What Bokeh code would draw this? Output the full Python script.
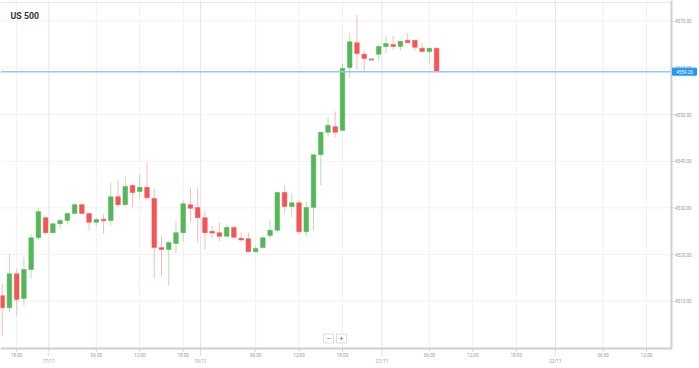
import math
from bokeh.plotting import figure
from bokeh.models import ColumnDataSource, Range1d
from bokeh.core.properties import value
from bokeh.embed import file_html
from bokeh.resources import INLINE

title_text = "US 500"

opens = [4511.2, 4508.6, 4515.9, 4510.6, 4516.8, 4523.6, 4527.9, 4524.7, 4526.6, 4527.3,
         4528.8, 4530.7, 4528.8, 4526.9, 4527.5, 4527.3, 4532.4, 4530.7, 4534.8, 4533.5,
         4534.4, 4532.0, 4521.5, 4521.1, 4522.4, 4524.7, 4530.7, 4530.1, 4527.9, 4524.9,
         4524.7, 4523.9, 4525.8, 4523.4, 4523.4, 4520.6, 4521.5, 4524.1, 4525.2, 4533.3,
         4530.3, 4531.1, 4524.9, 4530.1, 4541.4, 4546.2, 4547.4, 4546.6, 4560.1, 4565.4,
         4562.9, 4561.8, 4562.9, 4564.6, 4565.0, 4564.6, 4565.9, 4565.9, 4564.2, 4563.5,
         4564.2]
closes = [4508.6, 4515.9, 4510.4, 4516.8, 4523.6, 4529.2, 4524.7, 4526.6, 4527.3, 4528.8,
          4530.7, 4528.8, 4526.9, 4527.5, 4527.3, 4532.4, 4530.7, 4534.6, 4533.3, 4534.4,
          4532.2, 4521.5, 4521.1, 4522.6, 4524.7, 4530.9, 4529.9, 4527.9, 4524.7, 4524.7,
          4523.9, 4525.8, 4523.7, 4523.2, 4520.6, 4521.3, 4523.6, 4525.2, 4533.3, 4530.3,
          4531.1, 4524.9, 4530.1, 4541.4, 4546.2, 4547.7, 4546.2, 4559.9, 4565.6, 4563.1,
          4562.0, 4561.8, 4564.6, 4565.2, 4564.6, 4565.7, 4565.4, 4564.4, 4563.5, 4564.2,
          4559.2]
highs = [4513.8, 4520.2, 4517.0, 4519.4, 4524.3, 4529.9, 4528.1, 4526.9, 4527.9, 4529.0,
         4531.1, 4530.9, 4528.8, 4527.9, 4528.6, 4535.4, 4535.9, 4536.7, 4535.2, 4537.2,
         4539.7, 4534.1, 4524.1, 4523.0, 4527.1, 4531.6, 4534.4, 4534.4, 4529.4, 4526.2,
         4526.9, 4526.4, 4526.0, 4524.7, 4524.7, 4521.9, 4524.1, 4527.5, 4533.5, 4534.8,
         4533.1, 4531.8, 4531.4, 4541.4, 4546.2, 4549.4, 4550.7, 4560.9, 4567.4, 4571.4,
         4563.7, 4561.8, 4565.0, 4566.9, 4566.9, 4565.7, 4567.4, 4565.9, 4565.4, 4564.2,
         4564.2]
lows = [4502.6, 4507.6, 4506.9, 4509.1, 4514.9, 4523.0, 4524.5, 4524.5, 4525.6, 4526.4,
        4528.8, 4528.8, 4525.2, 4526.0, 4524.5, 4526.2, 4530.1, 4530.3, 4530.1, 4532.0,
        4531.6, 4514.9, 4515.5, 4513.4, 4520.4, 4522.8, 4526.9, 4522.6, 4521.1, 4523.4,
        4522.8, 4523.9, 4523.4, 4522.8, 4520.6, 4520.6, 4521.3, 4523.4, 4524.7, 4528.8,
        4528.1, 4524.3, 4523.9, 4525.2, 4534.8, 4545.3, 4545.1, 4546.6, 4557.9, 4559.6,
        4559.2, 4561.8, 4561.4, 4563.1, 4563.9, 4563.7, 4565.4, 4563.7, 4563.3, 4560.9,
        4559.2]

time_ticks = [2, 13, 19, 25, 35, 41, 47, 59, 65, 71, 83, 89]
time_labels = ["18:00", "06:00", "12:00", "18:00", "06:00", "12:00", "18:00",
               "06:00", "12:00", "18:00", "06:00", "12:00"]
date_ticks = [6.45, 27.4, 52.45, 76.4]
date_labels = ["17/11", "19/11", "21/11", "22/11"]
price_ticks = [4510, 4520, 4530, 4540, 4550, 4560, 4570]
price_labels = [f"{v:.2f}" for v in price_ticks]

# ---- layout constants ----
W, H = 699, 368
X0, X1 = -0.235, 96.31          # candle-index range across the whole canvas
Y0, Y1 = 4495.59, 4574.44       # price range across the whole canvas
AX_X = 92.44                    # position of the right price axis
AX_Y = 4499.86                  # position of the bottom time axis
TOP_Y = 4574.0
PPX = W / (X1 - X0)
PPY = H / (Y1 - Y0)

GREEN, RED, GRAY = "#56b65a", "#f65555", "#9a9a9a"
GREEN_W, RED_W, GRAY_W = "#b7dfb3", "#f8bcbc", "#cccccc"
GRID, GRID_D, AXIS, LABEL = "#f1f1f1", "#e3e3e3", "#cfcfcf", "#9a9a9a"
FONT = value("Roboto")
FS = "4.6px"

idx = list(range(len(opens)))
body_col, wick_col, tops, bots = [], [], [], []
for o, c in zip(opens, closes):
    if c > o:
        body_col.append(GREEN); wick_col.append(GREEN_W)
    elif c < o:
        body_col.append(RED); wick_col.append(RED_W)
    else:
        body_col.append(GRAY); wick_col.append(GRAY_W)
    t, b = max(o, c), min(o, c)
    if t - b < 0.35:
        m = (t + b) / 2
        t, b = m + 0.175, m - 0.175
    tops.append(t); bots.append(b)

src = ColumnDataSource(dict(x=idx, o=opens, c=closes, h=highs, l=lows,
                            top=tops, bot=bots, bc=body_col, wc=wick_col))

p = figure(width=W, height=H, x_range=Range1d(X0, X1), y_range=Range1d(Y0, Y1),
           x_axis_location=None, y_axis_location=None, min_border=0,
           output_backend="svg", toolbar_location=None,
           background_fill_color="white", border_fill_color="white",
           outline_line_color=None)
for g in p.grid:
    g.visible = False

# grid lines
p.segment(x0=time_ticks, x1=time_ticks, y0=AX_Y, y1=Y1, line_color=GRID, line_width=1)
p.segment(x0=date_ticks, x1=date_ticks, y0=AX_Y, y1=Y1, line_color=GRID_D, line_width=1)
p.segment(x0=X0, x1=AX_X, y0=price_ticks, y1=price_ticks, line_color=GRID, line_width=1)
p.segment(x0=X0, x1=AX_X, y0=TOP_Y, y1=TOP_Y, line_color="#e6e6e6", line_width=1)

# candles
p.segment(x0="x", y0="h", x1="x", y1="l", source=src, line_color="wc", line_width=1)
p.vbar(x="x", top="top", bottom="bot", width=0.64, source=src,
       fill_color="bc", line_color="bc", line_width=0.5)

# current price line
last_price = closes[-1]
p.segment(x0=X0, x1=AX_X, y0=last_price, y1=last_price, line_color="#8fc9f5", line_width=1.5)

# axes lines and ticks
p.segment(x0=X0, x1=AX_X, y0=AX_Y, y1=AX_Y, line_color=AXIS, line_width=2)
p.segment(x0=AX_X, x1=AX_X, y0=AX_Y - 0.2, y1=Y1, line_color=AXIS, line_width=2)
p.ray(x=time_ticks, y=AX_Y, length=3, length_units="screen", angle=-math.pi / 2,
      line_color=AXIS, line_width=1)
p.ray(x=date_ticks, y=AX_Y, length=8, length_units="screen", angle=-math.pi / 2,
      line_color="#b8b8b8", line_width=1, line_dash="1 1")
p.ray(x=AX_X, y=price_ticks, length=3, length_units="screen", angle=0,
      line_color=AXIS, line_width=1)

# axis labels
p.text(x=time_ticks, y=AX_Y, text=time_labels, y_offset=4.2, text_font=FONT,
       text_font_size=FS, text_color=LABEL, text_align="center", text_baseline="top")
p.text(x=date_ticks, y=AX_Y, text=date_labels, y_offset=10.7, text_font=FONT,
       text_font_size=FS, text_color=LABEL, text_align="center", text_baseline="top")
p.text(x=AX_X, y=price_ticks, text=price_labels, x_offset=3.5, text_font=FONT,
       text_font_size=FS, text_color=LABEL, text_align="left", text_baseline="middle")

# current price tag
tag_x = AX_X + (1 + 12) / PPX
p.rect(x=tag_x, y=last_price, width=24, height=7, width_units="screen",
       height_units="screen", fill_color="#2196f3", line_color="#2196f3")
p.text(x=tag_x, y=last_price, text=[f"{last_price:.2f}"], text_font=FONT,
       text_font_size=FS, text_color="white", text_align="center",
       text_baseline="middle")

# title
p.text(x=X0 + 10 / PPX, y=Y1 - 15.7 / PPY, text=[title_text], text_font=FONT,
       text_font_style="bold", text_font_size="8.8px", text_color="#333333",
       text_align="left", text_baseline="alphabetic")

# zoom buttons
bx = [X0 + 328 / PPX, X0 + 341 / PPX]
by = Y1 - 338 / PPY
p.rect(x=bx, y=by, width=10, height=9, width_units="screen", height_units="screen",
       fill_color="white", line_color="#dddddd")
p.text(x=bx, y=by, text=["\u2212", "+"], text_font=FONT, text_font_size="7.5px",
       text_color="#666666", text_align="center", text_baseline="middle")

open("out.html", "w").write(file_html(p, INLINE))
